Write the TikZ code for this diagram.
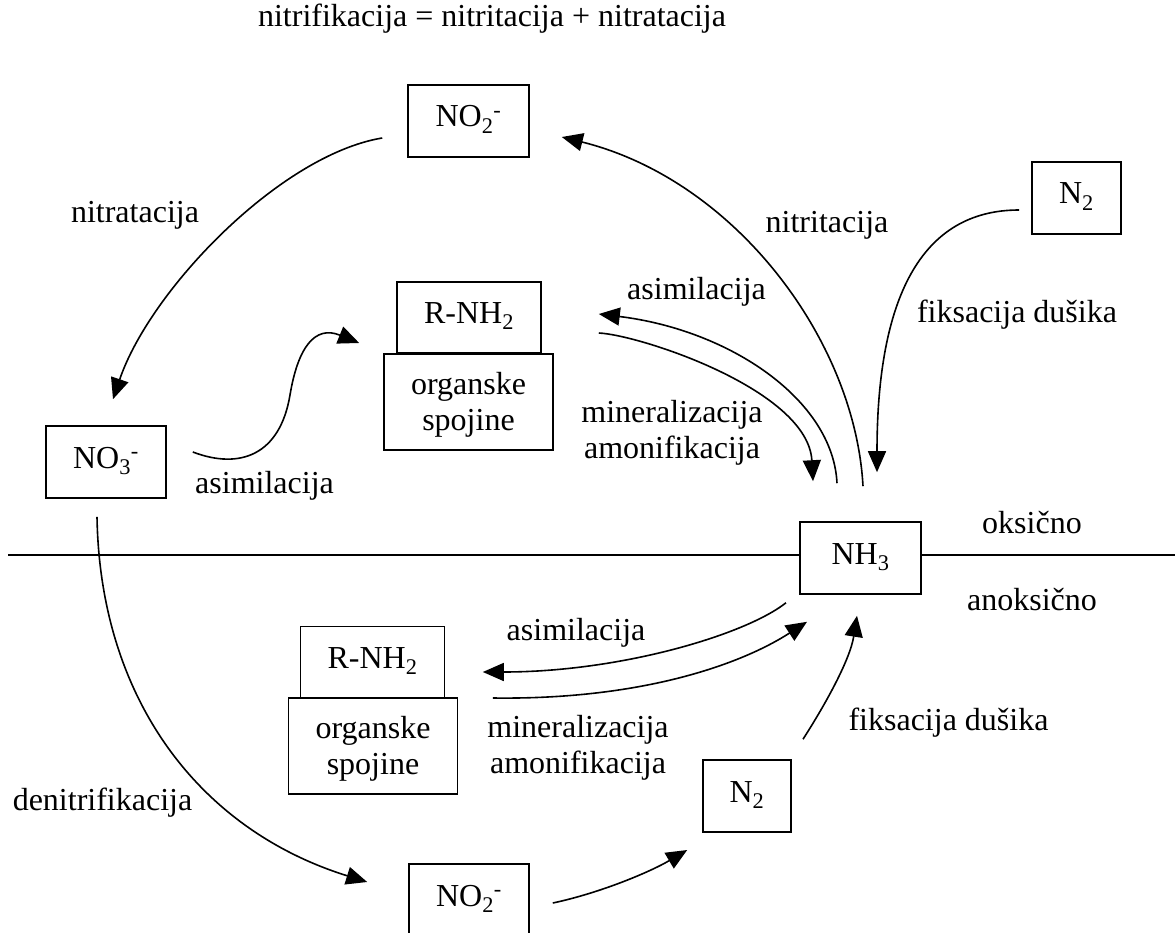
\documentclass[tikz,border=0pt]{standalone}
\usepackage{fontspec}
\setmainfont{Liberation Serif}
\usetikzlibrary{arrows.meta,calc}
\begin{document}
\begin{tikzpicture}[x=1pt,y=-1pt,
  every node/.style={font=\fontsize{32}{36.5}\selectfont},
  box/.style={draw, line width=1.6pt, inner sep=0pt, minimum height=72pt, text height=21pt, text depth=9pt},
  obox/.style={draw, line width=1.6pt, inner sep=0pt, align=center, minimum width=169pt, minimum height=96pt},
  lbl/.style={anchor=base, inner sep=0pt, align=center},
  conn/.style={line width=1.6pt, -{Triangle[length=21pt,width=18pt]}},
  plain/.style={line width=1.6pt}
]
\useasboundingbox (0,0) rectangle (1175,933);

% title
\node[lbl] (title) at (492,27) {nitrifikacija = nitritacija + nitratacija};

% boxes
\node[box, minimum width=121pt] (no2t) at (468.5,121) {NO\textsubscript{2}\textsuperscript{-}};
\node[box, minimum width=89pt] (n2t) at (1076.5,198) {N\textsubscript{2}};
\node[box, minimum width=144pt, minimum height=71pt] (rt) at (469,317.5) {R-NH\textsubscript{2}};
\node[obox] (ot) at (468.5,402) {\rule{0pt}{28pt}organske\\spojine};
\node[box, minimum width=120pt] (no3) at (106,462) {NO\textsubscript{3}\textsuperscript{-}};
\node[box, minimum width=121pt] (nh3) at (860.5,558) {NH\textsubscript{3}};
\node[box, minimum width=144pt, minimum height=71pt] (rb) at (372.5,662) {R-NH\textsubscript{2}};
\node[obox] (ob) at (373,746) {\rule{0pt}{28pt}organske\\spojine};
\node[box, minimum width=88pt] (n2b) at (747,796) {N\textsubscript{2}};
\node[box, minimum width=120pt] (no2b) at (469,900) {NO\textsubscript{2}\textsuperscript{-}};

% labels
\node[lbl] (lnitra) at (135,223) {nitratacija};
\node[lbl] (lnitri) at (827,233) {nitritacija};
\node[lbl] (lfixt) at (1017,323) {fiksacija dušika};
\node[lbl] (lasimt) at (696.5,300) {asimilacija};
\node[lbl] (lmint) at (672,458.5) {mineralizacija\\amonifikacija};
\node[lbl] (lasimn) at (264.5,493) {asimilacija};
\node[lbl] (lok) at (1032,533) {oksično};
\node[lbl] (lanok) at (1032,610) {anoksično};
\node[lbl] (lden) at (102.5,810) {denitrifikacija};
\node[lbl] (lasimb) at (576,640) {asimilacija};
\node[lbl] (lminb) at (578,773.5) {mineralizacija\\amonifikacija};
\node[lbl] (lfixb) at (948.5,730) {fiksacija dušika};

% separation line
\coordinate (L) at (8,555);
\coordinate (R) at (1175,555);
\draw[plain] (L) -- (L -| nh3.west);
\draw[plain] (nh3.east |- R) -- (R);

% connector end points
\coordinate (nitS) at ($(nh3.north)+(2.5,-35)$);
\coordinate (nitE) at ($(no2t.east)+(32,16)$);
\coordinate (asS) at ($(nh3.north)+(-23.5,-38)$);
\coordinate (asE) at ($(rt.east)+(57,-3.5)$);
\coordinate (miS) at ($(rt.east)+(57,15.5)$);
\coordinate (miE) at ($(nh3.north)+(-47.5,-40)$);
\coordinate (fxS) at ($(n2t.west)+(-12,12)$);
\coordinate (fxE) at ($(nh3.north)+(16.5,-49)$);
\coordinate (ntS) at ($(no2t.west)+(-25,17)$);
\coordinate (ntE) at ($(no3.north)+(7,-26)$);
\coordinate (sS) at ($(no3.east)+(26,-10)$);
\coordinate (sE) at ($(rt.west)+(-37,25.5)$);
\coordinate (dnS) at ($(no3.south)+(-9,18)$);
\coordinate (dnE) at ($(no2b.west)+(-41,-18)$);
\coordinate (abS) at ($(nh3.south)+(-74.5,8)$);
\coordinate (abE) at ($(rb.east)+(37.5,10)$);
\coordinate (mbS) at ($(rb.east)+(47.5,36)$);
\coordinate (mbE) at ($(nh3.south)+(-53.5,27)$);
\coordinate (nnS) at ($(no2b.east)+(23,3)$);
\coordinate (nnE) at ($(n2b.west)+(-15,54)$);
\coordinate (fbS) at ($(n2b.north)+(56,-20)$);
\coordinate (fbE) at ($(nh3.south)+(-3.5,21)$);

% upper connectors
\draw[conn] (nitS) .. controls (855,340) and (735,180) .. (nitE);
\draw[conn] (asS) .. controls (833,400) and (730,330) .. (asE);
\draw[conn] (miS) .. controls (640,335) and (808,390) .. (miE);
\draw[conn] (fxS) .. controls (920,210) and (877,300) .. (fxE);
\draw[conn] (ntS) .. controls (280,155) and (150,290) .. (ntE);
\draw[conn] (sS) .. controls (240,470) and (280,455) .. (290,395) .. controls (298,347) and (315,325) .. (sE);

% lower connectors
\draw[conn] (dnS) .. controls (100,700) and (200,830) .. (dnE);
\draw[conn] (abS) .. controls (745,635) and (620,672) .. (abE);
\draw[conn] (mbS) .. controls (640,700) and (740,665) .. (mbE);
\draw[conn] (nnS) .. controls (600,893) and (650,872) .. (nnE);
\draw[conn] (fbS) .. controls (825,705) and (850,660) .. (fbE);
\end{tikzpicture}
\end{document}
